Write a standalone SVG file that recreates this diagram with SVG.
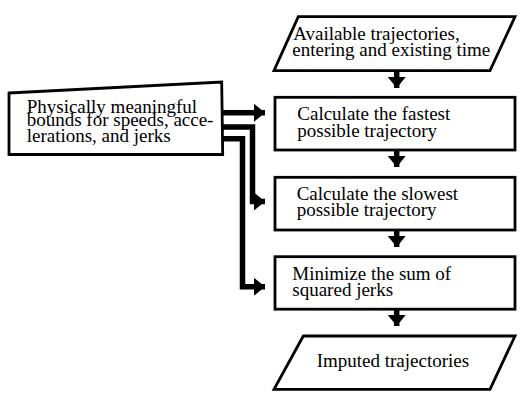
<svg xmlns="http://www.w3.org/2000/svg" width="528" height="406" viewBox="0 0 528 406">
<defs>
<style>
.shape{fill:#fff;stroke:#000;stroke-width:2.8;stroke-linejoin:miter}
.lbl{font-family:"Liberation Serif","Times New Roman",serif;font-size:19px;fill:#000}
.conn{fill:none;stroke:#000;stroke-width:5.5;stroke-linejoin:miter}
</style>
<marker id="ah" markerUnits="userSpaceOnUse" markerWidth="12" markerHeight="20" refX="11" refY="10" orient="auto" viewBox="0 0 12 20">
<polygon points="0,1 11,10 0,19" fill="#000"/>
</marker>
</defs>
<g id="connectors">
<path class="conn" d="M396.7,71 V88" marker-end="url(#ah)"/>
<path class="conn" d="M396.7,150 V167" marker-end="url(#ah)"/>
<path class="conn" d="M396.7,230 V247" marker-end="url(#ah)"/>
<path class="conn" d="M396.7,309 V326" marker-end="url(#ah)"/>
<path class="conn" d="M222,112.8 H265" marker-end="url(#ah)"/>
<path class="conn" d="M222,127 H252.5 V201.5 H265" marker-end="url(#ah)"/>
<path class="conn" d="M222,138.7 H242.5 V286.7 H265" marker-end="url(#ah)"/>
</g>
<g id="node-input">
<polygon class="shape" points="298.3,16.7 515,16.7 490,70.7 274,70.7"/>
<text class="lbl" x="293.3" y="39.5">Available trajectories,</text>
<text class="lbl" x="292.3" y="56">entering and existing time</text>
</g>
<g id="node-bounds">
<polygon class="shape" points="9,93 221.7,82 222.7,154.5 9,154.5"/>
<text class="lbl" x="26.7" y="112.5">Physically meaningful</text>
<text class="lbl" x="26.7" y="126">bounds for speeds, acce-</text>
<text class="lbl" x="26.7" y="141.5">lerations, and jerks</text>
</g>
<g id="node-fastest">
<rect class="shape" x="275" y="97.3" width="240" height="52.7"/>
<text class="lbl" x="297.3" y="119.5">Calculate the fastest</text>
<text class="lbl" x="297.3" y="136.5">possible trajectory</text>
</g>
<g id="node-slowest">
<rect class="shape" x="275" y="177.3" width="240" height="52.7"/>
<text class="lbl" x="296.7" y="199.5">Calculate the slowest</text>
<text class="lbl" x="296.7" y="215.5">possible trajectory</text>
</g>
<g id="node-minimize">
<rect class="shape" x="275" y="256.7" width="240" height="52.5"/>
<text class="lbl" x="292.3" y="280">Minimize the sum of</text>
<text class="lbl" x="292.3" y="295.7">squared jerks</text>
</g>
<g id="node-output">
<polygon class="shape" points="303.3,336 515,336 490,389.3 274,389.3"/>
<text class="lbl" x="316.7" y="367">Imputed trajectories</text>
</g>
</svg>
